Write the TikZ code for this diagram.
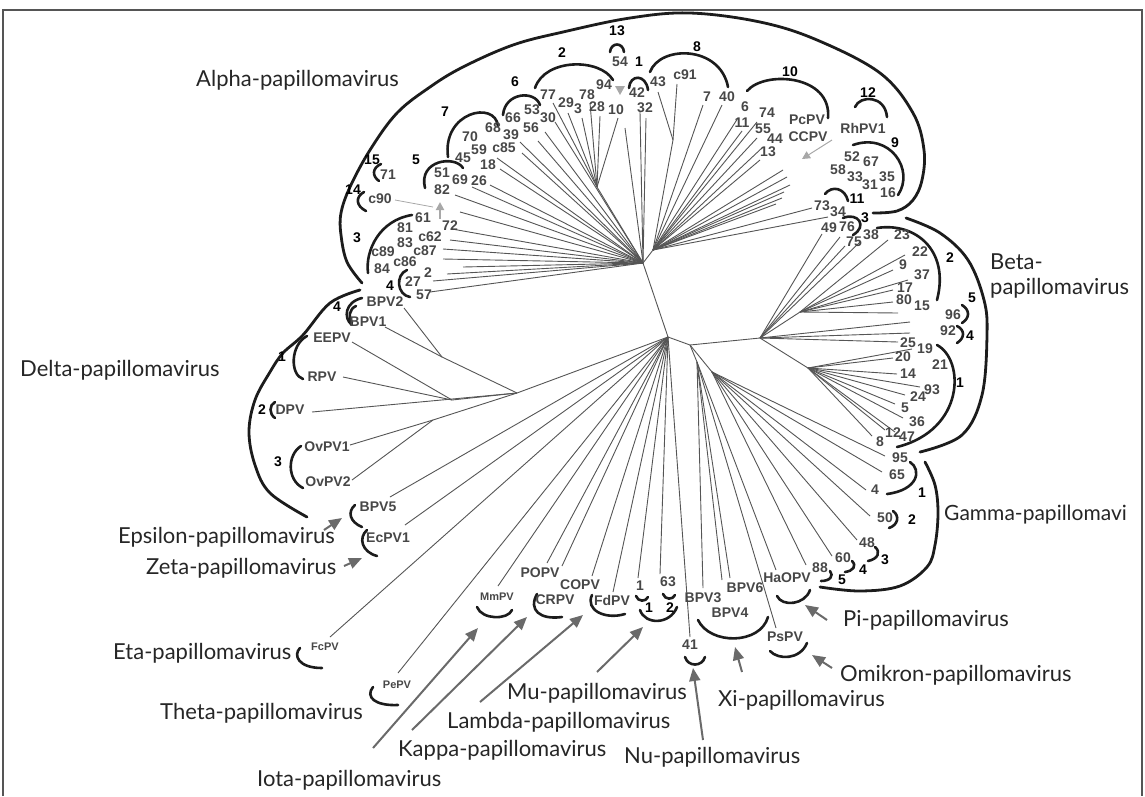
\documentclass[tikz,border=0pt]{standalone}
\usepackage{fontspec}
\setmainfont{Lato}
\newfontfamily\numfont{Liberation Sans}
\usetikzlibrary{arrows.meta}
\definecolor{numgray}{HTML}{474747}
\definecolor{linegray}{HTML}{555555}
\definecolor{arcblack}{HTML}{1C1C1C}
\definecolor{labblack}{HTML}{262626}
\definecolor{arrowgray}{HTML}{6A6A6A}
\definecolor{faint}{HTML}{A8A8A8}
\tikzset{
  num/.style={font=\numfont\bfseries\fontsize{14}{14}\selectfont, text=numgray, inner sep=0pt},
  cnum/.style={num, text=black},
  tiny/.style={num, font=\numfont\bfseries\fontsize{11}{11}\selectfont},
  lab/.style={font=\fontsize{22}{24}\selectfont, text=labblack, inner sep=0pt, anchor=west},
  tree/.style={draw=linegray, line width=0.9pt},
  brk/.style={draw=arcblack, line width=2.6pt, line cap=round},
  bigarc/.style={draw=arcblack, line width=2.8pt, line cap=round},
  garrow/.style={draw=arrowgray, line width=2pt, -{Triangle[length=13pt,width=11pt]}},
  farrow/.style={draw=faint, line width=1pt, -{Triangle[length=8pt,width=8pt]}},
}
\begin{document}
\begin{tikzpicture}[x=1pt,y=-1pt]
\useasboundingbox (0,0) rectangle (1145,796);
% frame
\draw[draw=linegray, line width=1.4pt] (3,796) -- (3,10) -- (1142,10) -- (1142,796);

% ---------- hubs ----------
\coordinate (A) at (643,263);
\coordinate (A2) at (653,250);
\coordinate (P1) at (597,187);
\coordinate (J1) at (673,140);
\coordinate (B) at (668,337);
\coordinate (C) at (690,345);
\coordinate (HB) at (760,338);
\coordinate (Bu) at (800,312);
\coordinate (Bl) at (808,368);
\coordinate (G) at (712,372);
\coordinate (X) at (697,362);
\coordinate (D1) at (517,393);
\coordinate (JB) at (442,357);
\coordinate (JE) at (452,400);
\coordinate (JO) at (433,420);

\draw[tree] (A) -- (A2);
\draw[tree] (A) -- (B);
\draw[tree] (B) -- (C);
\draw[tree] (C) -- (HB);
\draw[tree] (A) -- (P1);
\draw[tree] (A2) -- (J1);
\draw[tree] (HB) -- (Bu);
\draw[tree] (HB) -- (Bl);
\draw[tree] (C) -- (G);
\draw[tree] (C) -- (X);
\draw[tree] (B) -- (D1);
\draw[tree] (D1) -- (JB);
\draw[tree] (D1) -- (JE);
\draw[tree] (D1) -- (JO);

% alpha left fan
\foreach \x/\y [count=\k] in {555/122,545/132,538/141,520/142,522/153,497/158,500/169,490/185,472/187,455/195,460/212,452/229,450/240,443/249,443/259,463/267,447/274,433/281,430/292,625/128,640/112,646/118}
  {\coordinate (ea\k) at (\x,\y); \draw[tree] (A) -- (ea\k);}
\foreach \x/\y [count=\k] in {553/103,568/113,582/118,590/103,600/116,618/118}
  {\coordinate (ep\k) at (\x,\y); \draw[tree] (P1) -- (ep\k);}
\foreach \x/\y [count=\k] in {658/92,677/84}
  {\coordinate (ej\k) at (\x,\y); \draw[tree] (J1) -- (ej\k);}
\foreach \x/\y [count=\k] in {703/105,722/105,738/118,742/131,757/122,757/138,763/147,760/160,783/170,787/177,790/185,784/192,782/198,776/204,812/208,828/217}
  {\coordinate (eb\k) at (\x,\y); \draw[tree] (A2) -- (eb\k);}

% beta
\foreach \x/\y [count=\k] in {822/234,840/237,845/246,860/242,910/322,910/333,898/342}
  {\coordinate (eh\k) at (\x,\y); \draw[tree] (HB) -- (eh\k);}
\foreach \x/\y [count=\k] in {888/240,905/255,893/270,908/280,893/290,893/302,898/313}
  {\coordinate (eu\k) at (\x,\y); \draw[tree] (Bu) -- (eu\k);}
\foreach \x/\y [count=\k] in {912/349,893/358,897/374,920/387,905/395,895/404,903/418,895/432,885/430,872/436}
  {\coordinate (el\k) at (\x,\y); \draw[tree] (Bl) -- (el\k);}

% gamma, xi, omikron, pi
\foreach \x/\y [count=\k] in {885/456,882/472,866/490,870/516,857/540,832/556,806/565}
  {\coordinate (eg\k) at (\x,\y); \draw[tree] (G) -- (eg\k);}
\foreach \x/\y [count=\k] in {703/588,722/580,730/578,776/570,776/628}
  {\coordinate (ex\k) at (\x,\y); \draw[tree] (X) -- (ex\k);}

% lower-left fan
\foreach \x/\y [count=\k] in {390/497,405/525,330/637,398/673,498/586,547/563,562/566,592/576,613/592,638/578,660/574,690/637}
  {\coordinate (ec\k) at (\x,\y); \draw[tree] (B) -- (ec\k);}
% delta
\foreach \x/\y [count=\k] in {404/308,385/327}
  {\coordinate (ed\k) at (\x,\y); \draw[tree] (JB) -- (ed\k);}
\foreach \x/\y [count=\k] in {352/342,343/377}
  {\coordinate (ee\k) at (\x,\y); \draw[tree] (JE) -- (ee\k);}
\foreach \x/\y [count=\k] in {350/445,352/480}
  {\coordinate (eo\k) at (\x,\y); \draw[tree] (JO) -- (eo\k);}
\coordinate (edpv) at (312,412);
\draw[tree] (D1) -- (edpv);

% ---------- big arcs ----------
\draw[bigarc] plot[smooth, tension=0.6] coordinates {(362,283) (347,262) (341,235) (341,213) (350,187) (370,150) (397,113) (430,87) (463,67) (513,45) (563,32) (630,18) (690,13) (760,22) (817,40) (880,73) (913,113) (924,150) (922,180) (913,200) (897,211) (873,213)};
\draw[bigarc] plot[smooth, tension=0.6] coordinates {(360,290) (330,303) (303,335) (283,353) (270,372) (255,400) (249,432) (255,465) (270,493) (307,517)};
\draw[bigarc] plot[smooth, tension=0.6] coordinates {(906,218) (940,233) (968,260) (984,300) (987,335) (982,395) (962,435) (920,452)};
\draw[bigarc] plot[smooth, tension=0.6] coordinates {(925,462) (935,485) (938,513) (935,545) (927,567) (900,586) (860,591) (820,587)};

% ---------- small brackets ----------
% alpha
\draw[brk] (610,52) .. controls (611,42) and (623,42) .. (624,52);
\draw[brk] (535,88) .. controls (545,58) and (600,58) .. (613,80);
\draw[brk] (629,88) .. controls (630,74) and (646,74) .. (648,90);
\draw[brk] (650,72) .. controls (660,45) and (720,45) .. (728,87);
\draw[brk] (503,115) .. controls (505,92) and (535,90) .. (540,105);
\draw[brk] (448,157) .. controls (442,112) and (495,100) .. (498,126);
\draw[brk] (425,188) .. controls (418,160) and (455,155) .. (463,168);
\draw[brk] (381,164) .. controls (372,168) and (372,176) .. (379,181);
\draw[brk] (364,192) .. controls (355,197) and (356,206) .. (366,211);
\draw[brk] (747,91) .. controls (765,70) and (832,75) .. (828,118);
\draw[brk] (855,107) .. controls (860,95) and (885,95) .. (887,117);
\draw[brk] (853,145) .. controls (890,132) and (915,170) .. (898,195);
\draw[brk] (825,194) .. controls (832,185) and (845,188) .. (848,201);
\draw[brk] (412,215) .. controls (380,220) and (365,250) .. (368,273);
\draw[brk] (407,270) .. controls (395,275) and (397,295) .. (410,297);
\draw[brk] (843,218) .. controls (858,212) and (868,226) .. (853,235);
% beta
\draw[brk] (877,228) .. controls (915,222) and (950,250) .. (937,300);
\draw[brk] (962,305) .. controls (970,310) and (970,318) .. (962,323);
\draw[brk] (957,326) .. controls (965,330) and (965,338) .. (957,343);
\draw[brk] (937,345) .. controls (965,360) and (965,430) .. (897,447);
% gamma
\draw[brk] (910,462) .. controls (922,470) and (918,490) .. (887,494);
\draw[brk] (893,511) .. controls (900,516) and (898,525) .. (889,528);
\draw[brk] (875,547) .. controls (881,552) and (878,559) .. (868,561);
\draw[brk] (852,561) .. controls (857,566) and (853,571) .. (845,572);
\draw[brk] (830,571) .. controls (834,576) and (830,581) .. (821,581);
% delta
\draw[brk] (362,298) .. controls (345,302) and (343,318) .. (352,325);
\draw[brk] (356,306) .. controls (349,309) and (348,318) .. (352,323);
\draw[brk] (307,336) .. controls (290,345) and (290,375) .. (303,379);
\draw[brk] (275,402) .. controls (269,405) and (269,414) .. (275,418);
\draw[brk] (301,446) .. controls (287,455) and (287,480) .. (303,488);
\draw[brk] (355,505) .. controls (347,512) and (350,522) .. (362,527);
\draw[brk] (367,530) .. controls (358,538) and (362,552) .. (377,556);
% bottom
\draw[brk] (300,648) .. controls (293,655) and (298,668) .. (322,668);
\draw[brk] (373,687) .. controls (365,697) and (375,706) .. (398,705);
\draw[brk] (477,607) .. controls (482,620) and (508,620) .. (512,610);
\draw[brk] (537,594) .. controls (528,610) and (540,620) .. (562,617);
\draw[brk] (592,595) .. controls (585,610) and (605,620) .. (625,614);
\draw[brk] (636,596) .. controls (638,602) and (646,602) .. (648,597);
\draw[brk] (663,594) .. controls (665,600) and (673,600) .. (675,595);
\draw[brk] (640,610) .. controls (645,625) and (670,625) .. (677,607);
\draw[brk] (685,657) .. controls (688,667) and (702,667) .. (705,657);
\draw[brk] (698,620) .. controls (710,645) and (760,645) .. (768,617);
\draw[brk] (777,596) .. controls (782,607) and (805,605) .. (810,590);
\draw[brk] (770,651) .. controls (778,660) and (800,660) .. (807,643);

% ---------- faint grey arrows (alpha) ----------
\fill[faint] (615,86) -- (625,86) -- (620,95) -- cycle;
\coordinate (fa1) at (395,200); \coordinate (fa2) at (433,207);
\draw[draw=faint, line width=0.8pt] (fa1) -- (fa2);
\coordinate (fb1) at (440,219); \coordinate (fb2) at (440,202);
\draw[farrow, line width=2pt] (fb1) -- (fb2);
\coordinate (fc1) at (832,140); \coordinate (fc2) at (802,159);
\draw[farrow] (fc1) -- (fc2);

% ---------- leaf labels ----------
\foreach \t/\x/\y [count=\k] in {54/620/62,94/604/85,42/637/93,43/658/82,c91/685/75,77/548/95,29/566/103,3/578/109,78/587/95,28/597/107,10/616/110,32/645/108,66/513/118,53/532/110,30/548/118,56/531/128,68/493/128,39/511/135,70/470/137,59/479/150,c85/504/148,45/463/158,18/488/165,51/442/173,69/460/180,26/479/181,82/442/190,71/388/175,c90/380/199,61/423/218,81/405/228,72/450/226,c62/430/237,83/405/243,c89/383/252,c87/425/251,c86/405/262,84/382/269,2/428/273,27/413/282,57/424/295,7/707/97,40/727/97,6/745/107,11/742/123,74/767/113,55/763/129,44/775/139,13/768/152,52/852/157,67/871/162,58/838/170,33/855/177,31/870/185,35/887/177,16/888/193,73/822/206,34/838/212,49/829/228,76/847/227,75/854/242,38/871/235,PcPV/807/120,CCPV/808/137,RhPV1/863/128}
  {\node[num] (la\k) at (\x,\y) {\t};}
\foreach \t/\x/\y [count=\k] in {23/902/235,22/920/252,9/903/265,37/922/275,17/905/288,80/904/300,15/922/306,96/953/315,92/948/331,25/908/343,19/925/349,20/903/357,21/940/365,14/908/374,93/932/390,24/918/397,5/905/408,36/917/422,8/880/442,12/893/433,47/907/437,95/900/458,65/897/475,4/875/490,50/885/518,48/867/543,60/843/558,88/820/568}
  {\node[num] (lb\k) at (\x,\y) {\t};}
\foreach \t/\x/\y [count=\k] in {BPV2/385/302,BPV1/368/322,EEPV/332/338,RPV/322/377,DPV/290/410,OvPV1/327/447,OvPV2/328/482,BPV5/378/507,EcPV1/388/538,POPV/540/573,COPV/580/585,CRPV/555/600,FdPV/612/600,1/640/586,63/668/582,41/690/645,BPV3/703/598,BPV6/745/588,BPV4/730/613,HaOPV/787/578,PsPV/785/637}
  {\node[num] (lc\k) at (\x,\y) {\t};}
\foreach \t/\x/\y [count=\k] in {FcPV/325/647,PePV/397/685,MmPV/497/597}
  {\node[tiny] (ld\k) at (\x,\y) {\t};}
% cluster numbers
\foreach \t/\x/\y [count=\k] in {13/617/31,2/562/53,1/639/62,8/697/47,10/790/72,12/868/93,9/895/143,11/857/199,6/515/82,7/445/112,5/416/160,15/372/160,14/353/190,3/357/238,4/390/286,3/865/218,2/950/258,5/972/298,4/970/336,1/960/383,1/922/493,2/912/520,3/885/560,4/863/570,5/842/580,4/337/307,1/282/357,2/262/410,3/278/462,1/649/608,2/670/608}
  {\node[cnum] (lk\k) at (\x,\y) {\t};}

% ---------- genus labels ----------
\node[lab] (alpha) at (196,80) {Alpha-papillomavirus};
\node[lab] (delta) at (20,370) {Delta-papillomavirus};
\node[lab] (beta1) at (990,262) {Beta-};
\node[lab] (beta2) at (990,288) {papillomavirus};
\node[lab, font=\fontsize{21}{23}\selectfont] (gamma) at (944,515) {Gamma-papillomavi};
\node[lab] (eps) at (118,537) {Epsilon-papillomavirus};
\node[lab] (zeta) at (146,568) {Zeta-papillomavirus};
\node[lab] (eta) at (113,653) {Eta-papillomavirus};
\node[lab] (theta) at (160,713) {Theta-papillomavirus};
\node[lab] (iota) at (257,780) {Iota-papillomavirus};
\node[lab] (kappa) at (398,750) {Kappa-papillomavirus};
\node[lab] (lambda) at (447,722) {Lambda-papillomavirus};
\node[lab] (mu) at (507,693) {Mu-papillomavirus};
\node[lab] (nu) at (624,757) {Nu-papillomavirus};
\node[lab] (xi) at (718,700) {Xi-papillomavirus};
\node[lab] (pi) at (843,620) {Pi-papillomavirus};
\node[lab] (omi) at (840,675) {Omikron-papillomavirus};

% ---------- grey arrows ----------
\foreach \a/\b/\c/\d [count=\k] in {324/530/342/518, 344/566/362/558, 373/748/478/628, 412/730/527/617, 480/702/583/615, 597/672/643/627, 703/740/693/668, 742/672/735/647, 827/620/805/605, 832/668/812/655}
  {\coordinate (as\k) at (\a,\b); \coordinate (ae\k) at (\c,\d); \draw[garrow] (as\k) -- (ae\k);}
\end{tikzpicture}
\end{document}
